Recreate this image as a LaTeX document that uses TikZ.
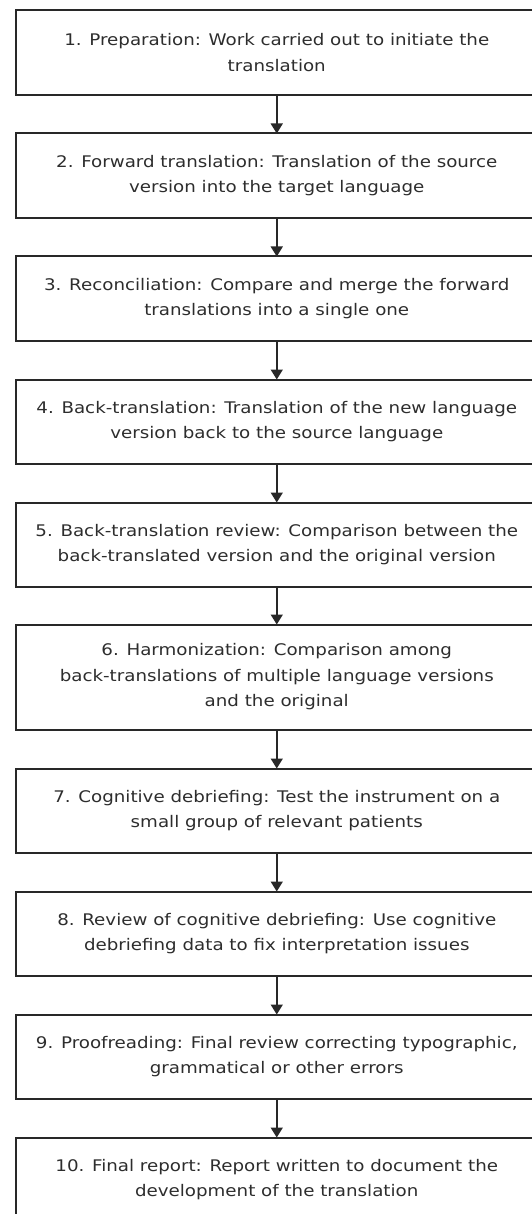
\documentclass[tikz,border=0pt]{standalone}
\usepackage{fontspec}
\setmainfont{DejaVu Sans}[FakeStretch=1.14]
\usetikzlibrary{positioning, arrows.meta}
\definecolor{linegray}{RGB}{40,40,40}
\definecolor{textgray}{RGB}{45,45,45}

\begin{document}
\begin{tikzpicture}[
    x=1pt, y=1pt,
    block/.style={rectangle, draw=linegray, line width=2pt, minimum height=84.5pt, minimum width=522.5pt, align=center, text=textgray, font=\fontsize{16}{25.5}\selectfont, inner sep=0pt, outer sep=0pt},
    tallblock/.style={block, minimum height=105pt},
    arrow/.style={-{Triangle[length=10pt, width=12pt]}, line width=1.6pt, draw=linegray}
]
\useasboundingbox (0,0) rectangle (532,-1214);

% === STEPS ===
\node[block, anchor=north west] (prep) at (15.5,-10.5) {1. Preparation: Work carried out to initiate the \\ translation};
\node[block, below=38.5pt of prep] (fwd) {2. Forward translation: Translation of the source \\ version into the target language};
\node[block, below=38.5pt of fwd] (recon) {3. Reconciliation: Compare and merge the forward \\ translations into a single one};
\node[block, below=38.5pt of recon] (back) {4. Back-translation: Translation of the new language \\ version back to the source language};
\node[block, below=38.5pt of back] (review) {5. Back-translation review: Comparison between the \\ back-translated version and the original version};
\node[tallblock, below=37.5pt of review] (harmon) {6. Harmonization: Comparison among \\ back-translations of multiple language versions \\ and the original};
\node[block, below=39pt of harmon] (debrief) {7. Cognitive debriefing: Test the instrument on a \\ small group of relevant patients};
\node[block, below=38.5pt of debrief] (revdebrief) {8. Review of cognitive debriefing: Use cognitive \\ debriefing data to fix interpretation issues};
\node[block, below=38.5pt of revdebrief] (proof) {9. Proofreading: Final review correcting typographic, \\ grammatical or other errors};
\node[block, below=38.5pt of proof] (report) {10. Final report: Report written to document the \\ development of the translation};

% Step connections
\draw[arrow] (prep) -- (fwd);
\draw[arrow] (fwd) -- (recon);
\draw[arrow] (recon) -- (back);
\draw[arrow] (back) -- (review);
\draw[arrow] (review) -- (harmon);
\draw[arrow] (harmon) -- (debrief);
\draw[arrow] (debrief) -- (revdebrief);
\draw[arrow] (revdebrief) -- (proof);
\draw[arrow] (proof) -- (report);

\end{tikzpicture}
\end{document}
